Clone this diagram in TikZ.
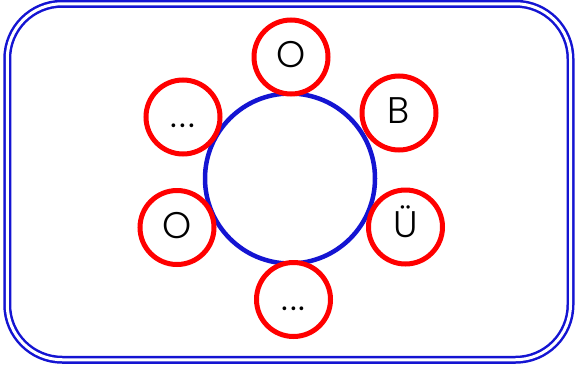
\documentclass[tikz,border=0pt]{standalone}
\usepackage{fontspec}
\setmainfont{Poppins Light}
\begin{document}
\begin{tikzpicture}[x=1pt,y=-1pt,
  frame/.style={draw={rgb,255:red,20;green,20;blue,210}, line width=2.5pt, double=white, double distance=3pt, rounded corners=55pt},
  hub/.style={circle, draw={rgb,255:red,20;green,20;blue,210}, line width=4.5pt, minimum size=170pt, inner sep=0pt},
  leaf/.style={circle, draw=red, line width=5pt, minimum size=74pt, inner sep=0pt, fill=white, font=\fontsize{37}{37}\selectfont, text height=21pt, text depth=0pt}]
\useasboundingbox (0,0) rectangle (575,367);
\draw[frame] (7.25,3.75) rectangle (570.5,359.75);
\node[hub] (c) at (290,178.5) {};
\node[leaf] (t) at (291,57) {O};
\node[leaf] (b) at (399,113) {B};
\node[leaf] (u) at (405.5,227) {Ü};
\node[leaf] (d) at (293.5,299.5) {.\hspace{2pt}.\hspace{2pt}.};
\node[leaf] (l) at (177,227.5) {O};
\node[leaf] (e) at (183,117) {.\hspace{2pt}.\hspace{2pt}.};
\end{tikzpicture}
\end{document}
